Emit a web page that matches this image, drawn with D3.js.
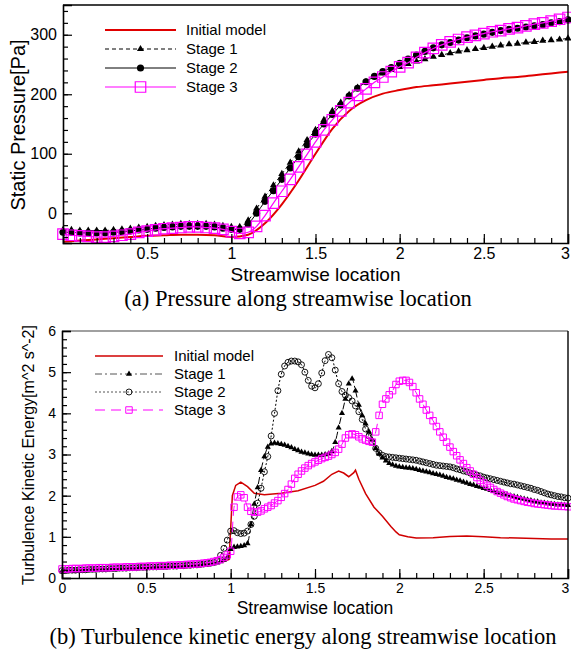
<!DOCTYPE html>
<html>
<head>
<meta charset="utf-8">
<script src="https://cdn.jsdelivr.net/npm/d3@7"></script>
<style>
  body { margin: 0; background: #fff; }
  svg text { font-family: Arial, "Liberation Sans", sans-serif; fill: #000; }
  svg text.caption { font-family: "Times New Roman", "Liberation Serif", serif; }
</style>
</head>
<body>
<script>

/*
 * (a) static pressure, markers every 0.05 of streamwise location
 */
const pressX = d3.range(0, 3.0001, 0.05);
const pressInitX = d3.range(0, 3.0001, 0.1);
const pressInit = [-48, -46, -44, -42, -40, -38, -37, -36, -36, -37,
  -40, -36, -17, 15, 55, 100, 142, 172, 190, 201,
  207, 212, 215, 218, 221, 224, 227, 229, 232, 235,
  238];
const pressStage1 = [-28, -28, -29, -29, -29, -29, -28, -27, -26, -24,
  -23, -21, -20, -19, -18, -18, -18, -18, -19, -21,
  -23, -23, -12, 8, 28, 47, 66, 85, 104, 123,
  140, 157, 172, 186, 199, 211, 221, 229, 235, 241,
  246, 251, 255, 259, 263, 266, 269, 272, 274, 276,
  278, 280, 282, 284, 285, 287, 288, 290, 291, 292,
  294];
const pressStage2 = [-32, -32, -33, -33, -33, -33, -32, -31, -30, -28,
  -27, -25, -24, -23, -22, -22, -22, -22, -23, -25,
  -27, -27, -18, 0, 20, 38, 57, 76, 95, 115,
  133, 150, 166, 182, 197, 210, 221, 230, 238, 245,
  252, 259, 266, 272, 278, 283, 287, 291, 295, 298,
  301, 304, 307, 309, 311, 313, 315, 317, 320, 322,
  325];
const pressStage3 = [-35, -37, -38, -39, -40, -40, -39, -37, -35, -32,
  -30, -28, -26, -25, -24, -23, -23, -24, -25, -27,
  -31, -34, -32, -22, -4, 17, 37, 57, 78, 99,
  120, 140, 157, 172, 186, 198, 209, 220, 229, 238,
  246, 253, 262, 270, 277, 283, 288, 292, 296, 299,
  302, 305, 307, 310, 312, 315, 318, 320, 323, 326,
  329];

/*
 * (b) turbulence kinetic energy, samples every 0.02
 */
const tkeX = d3.range(0, 3.0001, 0.02);
const tkeInitX = [0, 0.1, 0.2, 0.3, 0.4, 0.5, 0.6, 0.7, 0.8, 0.9,
  0.95, 0.99, 1.0, 1.01, 1.03, 1.06, 1.1, 1.14, 1.2, 1.3,
  1.4, 1.5, 1.55, 1.6, 1.64, 1.67, 1.7, 1.73, 1.74, 1.76,
  1.8, 1.85, 1.9, 1.95, 1.98, 2.0, 2.05, 2.1, 2.2, 2.3,
  2.4, 2.5, 2.6, 2.7, 2.8, 2.9, 3.0];
const tkeInit = [0.17, 0.19, 0.21, 0.22, 0.24, 0.25, 0.27, 0.29, 0.31, 0.35,
  0.39, 0.45, 1.2, 2.0, 2.25, 2.33, 2.22, 2.06, 2.02, 2.06,
  2.12, 2.25, 2.35, 2.52, 2.6, 2.55, 2.46, 2.56, 2.62, 2.4,
  2.05, 1.72, 1.5, 1.25, 1.12, 1.05, 1.0, 0.97, 0.98, 1.01,
  1.02, 1.0, 0.98, 0.97, 0.96, 0.95, 0.95];
const tkeStage1 = [0.16, 0.16, 0.17, 0.17, 0.17, 0.18, 0.18, 0.18, 0.19, 0.19,
  0.19, 0.20, 0.20, 0.20, 0.21, 0.21, 0.21, 0.22, 0.22, 0.22,
  0.23, 0.23, 0.23, 0.24, 0.24, 0.24, 0.25, 0.25, 0.25, 0.26,
  0.26, 0.26, 0.27, 0.27, 0.27, 0.28, 0.28, 0.29, 0.29, 0.30,
  0.30, 0.31, 0.32, 0.33, 0.34, 0.35, 0.37, 0.40, 0.44, 0.50,
  0.70, 0.75, 0.76, 0.77, 0.79, 0.84, 1.30, 1.80, 2.20, 2.62,
  2.95, 3.18, 3.26, 3.28, 3.27, 3.25, 3.23, 3.20, 3.17, 3.13,
  3.10, 3.06, 3.04, 3.02, 3.00, 2.99, 2.99, 2.99, 3.00, 3.02,
  3.08, 3.30, 3.65, 4.00, 4.35, 4.72, 4.84, 4.55, 4.20, 3.95,
  3.75, 3.55, 3.35, 3.15, 3.02, 2.92, 2.85, 2.79, 2.75, 2.72,
  2.70, 2.69, 2.68, 2.67, 2.66, 2.64, 2.62, 2.60, 2.58, 2.56,
  2.54, 2.52, 2.50, 2.48, 2.45, 2.43, 2.41, 2.38, 2.36, 2.33,
  2.31, 2.28, 2.26, 2.23, 2.21, 2.18, 2.16, 2.13, 2.11, 2.08,
  2.06, 2.04, 2.02, 2.00, 1.98, 1.96, 1.94, 1.92, 1.90, 1.88,
  1.86, 1.85, 1.83, 1.82, 1.81, 1.80, 1.79, 1.78, 1.78, 1.77,
  1.77];
const tkeStage2 = [0.18, 0.18, 0.19, 0.19, 0.19, 0.20, 0.20, 0.20, 0.21, 0.21,
  0.21, 0.22, 0.22, 0.22, 0.23, 0.23, 0.23, 0.24, 0.24, 0.24,
  0.25, 0.25, 0.25, 0.26, 0.26, 0.26, 0.27, 0.27, 0.27, 0.28,
  0.28, 0.28, 0.29, 0.29, 0.29, 0.30, 0.30, 0.31, 0.31, 0.32,
  0.32, 0.33, 0.34, 0.35, 0.36, 0.38, 0.42, 0.55, 0.72, 0.92,
  1.14, 1.15, 1.10, 1.08, 1.09, 1.14, 1.30, 1.50, 1.82, 2.18,
  2.58, 2.95, 3.45, 4.00, 4.55, 4.95, 5.15, 5.24, 5.27, 5.27,
  5.25, 5.18, 5.00, 4.80, 4.66, 4.62, 4.72, 4.98, 5.28, 5.43,
  5.35, 5.05, 4.72, 4.53, 4.44, 4.38, 4.30, 4.18, 4.04, 3.85,
  3.62, 3.45, 3.30, 3.15, 3.04, 2.98, 2.95, 2.94, 2.93, 2.92,
  2.91, 2.90, 2.89, 2.88, 2.87, 2.86, 2.84, 2.82, 2.80, 2.78,
  2.76, 2.74, 2.73, 2.72, 2.71, 2.70, 2.68, 2.65, 2.63, 2.60,
  2.58, 2.55, 2.53, 2.50, 2.48, 2.45, 2.43, 2.41, 2.39, 2.37,
  2.35, 2.33, 2.31, 2.29, 2.28, 2.26, 2.24, 2.22, 2.20, 2.18,
  2.15, 2.13, 2.10, 2.07, 2.04, 2.02, 2.00, 1.98, 1.97, 1.95,
  1.94];
const tkeStage3 = [0.22, 0.22, 0.22, 0.23, 0.23, 0.23, 0.23, 0.24, 0.24, 0.24,
  0.24, 0.25, 0.25, 0.25, 0.25, 0.26, 0.26, 0.26, 0.26, 0.27,
  0.27, 0.27, 0.27, 0.28, 0.28, 0.28, 0.29, 0.29, 0.29, 0.30,
  0.30, 0.30, 0.31, 0.31, 0.31, 0.32, 0.32, 0.33, 0.33, 0.34,
  0.34, 0.35, 0.36, 0.37, 0.38, 0.40, 0.42, 0.45, 0.50, 0.56,
  0.65, 1.72, 1.97, 2.02, 1.95, 1.72, 1.62, 1.60, 1.60, 1.63,
  1.68, 1.72, 1.76, 1.82, 1.88, 1.96, 2.05, 2.15, 2.28, 2.42,
  2.52, 2.60, 2.67, 2.73, 2.78, 2.82, 2.86, 2.90, 2.93, 2.96,
  3.00, 3.05, 3.13, 3.25, 3.40, 3.48, 3.50, 3.48, 3.43, 3.38,
  3.35, 3.32, 3.30, 3.55, 3.95, 4.22, 4.35, 4.45, 4.55, 4.70,
  4.78, 4.80, 4.80, 4.75, 4.65, 4.50, 4.35, 4.22, 4.08, 3.95,
  3.82, 3.68, 3.55, 3.42, 3.30, 3.18, 3.07, 2.97, 2.87, 2.78,
  2.68, 2.60, 2.52, 2.44, 2.37, 2.31, 2.25, 2.20, 2.15, 2.10,
  2.06, 2.02, 1.98, 1.95, 1.92, 1.90, 1.88, 1.86, 1.84, 1.83,
  1.81, 1.80, 1.79, 1.78, 1.77, 1.76, 1.75, 1.75, 1.74, 1.74,
  1.73];

const legendNames = ['Initial model', 'Stage 1', 'Stage 2', 'Stage 3'];
const xTicks = [0, 0.5, 1, 1.5, 2, 2.5, 3];
const pressTicks = [0, 100, 200, 300];
const tkeTicks = [0, 1, 2, 3, 4, 5, 6];

const svg = d3.select('body').append('svg')
  .attr('width', 571)
  .attr('height', 653);

const xA = d3.scaleLinear().domain([0, 3]).range([63, 568]);
const yA = d3.scaleLinear().domain([-50, 350]).range([243, 5]);
const xB = d3.scaleLinear().domain([0, 3]).range([62, 568]);
const yB = d3.scaleLinear().domain([0, 6]).range([578, 331]);

/*
 * Axes with inward major + minor ticks, plus the top and right frame lines.
 */
function drawAxes(x, y, o) {
  const g = svg.append('g');
  const x0 = x.range()[0], x1 = x.range()[1];
  const y0 = y.range()[0], y1 = y.range()[1];

  g.append('line')
    .attr('x1', x0).attr('x2', x1).attr('y1', y1).attr('y2', y1)
    .attr('stroke', o.topColor).attr('stroke-width', 1.6);
  g.append('line')
    .attr('x1', x1).attr('x2', x1).attr('y1', y1).attr('y2', y0)
    .attr('stroke', '#000').attr('stroke-width', 1.4);

  g.append('g')
    .attr('transform', `translate(0,${y0})`)
    .call(d3.axisBottom(x).tickValues(d3.range(0.1, 3, 0.1)).tickSize(-5).tickFormat(''))
    .call(s => s.select('.domain').remove());
  g.append('g')
    .attr('transform', `translate(${x0},0)`)
    .call(d3.axisLeft(y).tickValues(o.yMinor).tickSize(-5).tickFormat(''))
    .call(s => s.select('.domain').remove());

  g.append('g')
    .attr('transform', `translate(0,${y0})`)
    .call(d3.axisBottom(x).tickValues(o.xMajor).tickSize(-9).tickPadding(5)
      .tickFormat(d3.format('~g')))
    // last label sits on the page edge, nudge it inside
    .call(s => s.selectAll('.tick text').filter(d => d === 3).attr('dx', -3));
  g.append('g')
    .attr('transform', `translate(${x0},0)`)
    .call(d3.axisLeft(y).tickValues(o.yMajor).tickSize(-9).tickPadding(6)
      .tickFormat(d3.format('~g')));

  g.selectAll('.domain').attr('stroke', '#000').attr('stroke-width', 1.6);
  g.selectAll('.tick line').attr('stroke', '#000').attr('stroke-width', 1.2);
  g.selectAll('.tick text').attr('font-size', o.tickSize).attr('font-family', null);

  g.append('text')
    .attr('x', (x0 + x1) / 2).attr('y', o.xTitleY)
    .attr('text-anchor', 'middle').attr('font-size', o.titleSize)
    .text('Streamwise location');
  g.append('text')
    .attr('transform', `translate(${o.yTitleX},${o.yTitleY}) rotate(-90)`)
    .attr('text-anchor', 'middle').attr('font-size', o.yTitleSize)
    .text(o.yTitle);
  svg.append('text')
    .classed('caption', true)
    .attr('x', o.captionX).attr('y', o.captionY)
    .attr('text-anchor', 'middle').attr('font-size', 22.5)
    .text(o.caption);
}

function markerPath(m) {
  const types = { tri: d3.symbolTriangle, circle: d3.symbolCircle, square: d3.symbolSquare };
  return d3.symbol().type(types[m.type]).size(m.size)();
}

function drawSeries(x, y, s) {
  const pts = s.xs.map((v, i) => [v, s.ys[i]]);
  const g = svg.append('g');
  g.append('path')
    .attr('d', d3.line().x(d => x(d[0])).y(d => y(d[1])).curve(s.curve)(pts))
    .attr('fill', 'none')
    .attr('stroke', s.color)
    .attr('stroke-width', s.width)
    .attr('stroke-dasharray', s.dash);
  if (s.marker) {
    g.selectAll('path.mk')
      .data(pts)
      .join('path')
      .classed('mk', true)
      .attr('d', markerPath(s.marker))
      .attr('transform', d => `translate(${x(d[0])},${y(d[1])})`)
      .attr('fill', s.marker.fill)
      .attr('stroke', s.marker.stroke)
      .attr('stroke-width', s.marker.sw);
  }
}

function drawLegend(series, o) {
  series.forEach((s, i) => {
    const yy = o.y + i * o.dy;
    const g = svg.append('g');
    g.append('line')
      .attr('x1', o.x0).attr('x2', o.x1).attr('y1', yy).attr('y2', yy)
      .attr('stroke', s.legendColor || s.color)
      .attr('stroke-width', s.width)
      .attr('stroke-dasharray', s.dash);
    if (s.marker) {
      g.append('path')
        .attr('d', markerPath(s.marker))
        .attr('transform', `translate(${(o.x0 + o.x1) / 2},${yy})`)
        .attr('fill', s.marker.fill)
        .attr('stroke', s.marker.stroke)
        .attr('stroke-width', s.marker.sw);
    }
    g.append('text')
      .attr('x', o.tx).attr('y', yy + o.fs * 0.36)
      .attr('font-size', o.fs)
      .text(legendNames[i]);
  });
}

/* ---------- (a) pressure ---------- */
const seriesA = [
  { xs: pressInitX, ys: pressInit, color: '#e00000', width: 2, dash: null, curve: d3.curveMonotoneX, marker: null },
  { xs: pressX, ys: pressStage1, color: '#000', width: 1, dash: '4,3', curve: d3.curveMonotoneX,
    marker: { type: 'tri', size: 22, fill: '#000', stroke: 'none', sw: 0 } },
  { xs: pressX, ys: pressStage2, color: '#000', width: 1, dash: null, curve: d3.curveMonotoneX,
    marker: { type: 'circle', size: 40, fill: '#000', stroke: 'none', sw: 0 } },
  { xs: pressX, ys: pressStage3, color: '#ff00ff', width: 1.2, dash: null, curve: d3.curveMonotoneX,
    marker: { type: 'square', size: 110, fill: 'none', stroke: '#ff00ff', sw: 1.2 } }
];

seriesA.forEach(s => drawSeries(xA, yA, s));
drawAxes(xA, yA, {
  xMajor: xTicks.slice(1), yMajor: pressTicks, yMinor: d3.range(-40, 350, 20),
  topColor: '#000', tickSize: 16, titleSize: 19,
  xTitleY: 281, yTitleX: 25, yTitleY: 125, yTitleSize: 20, yTitle: 'Static Pressure[Pa]',
  captionX: 298, captionY: 306, caption: '(a) Pressure along streamwise location'
});
drawLegend(seriesA, { x0: 105, x1: 176, tx: 186, y: 30, dy: 19, fs: 15 });

/* ---------- (b) turbulence kinetic energy ---------- */
const seriesB = [
  { xs: tkeInitX, ys: tkeInit, color: '#d00000', width: 1.5, dash: null, curve: d3.curveLinear, marker: null },
  { xs: tkeX, ys: tkeStage1, color: '#000', legendColor: '#555', width: 1, dash: '7,3,2,3', curve: d3.curveMonotoneX,
    marker: { type: 'tri', size: 16, fill: '#000', stroke: 'none', sw: 0 } },
  { xs: tkeX, ys: tkeStage2, color: '#000', legendColor: '#555', width: 1, dash: '2,2', curve: d3.curveMonotoneX,
    marker: { type: 'circle', size: 28, fill: 'none', stroke: '#000', sw: 0.9 } },
  { xs: tkeX, ys: tkeStage3, color: '#ff00ff', width: 1, dash: '10,6', curve: d3.curveMonotoneX,
    marker: { type: 'square', size: 42, fill: 'none', stroke: '#ff00ff', sw: 1 } }
];

seriesB.forEach(s => drawSeries(xB, yB, s));
drawAxes(xB, yB, {
  xMajor: xTicks, yMajor: tkeTicks, yMinor: d3.range(0.2, 6, 0.2),
  topColor: '#808080', tickSize: 14, titleSize: 17.5,
  xTitleY: 614, yTitleX: 34, yTitleY: 455, yTitleSize: 16, yTitle: 'Turbulence Kinetic Energy[m^2 s^-2]',
  captionX: 303, captionY: 644, caption: '(b) Turbulence kinetic energy along streamwise location'
});
drawLegend(seriesB, { x0: 95, x1: 163, tx: 174, y: 356, dy: 18, fs: 15 });

</script>
</body>
</html>
